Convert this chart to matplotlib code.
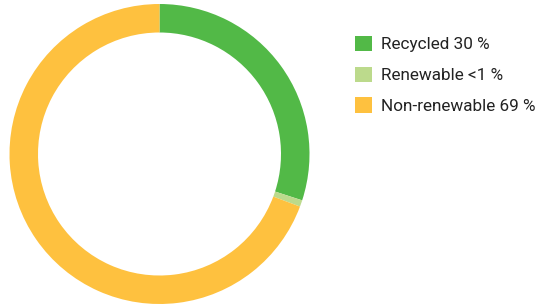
import matplotlib
matplotlib.use("Agg")
import matplotlib.pyplot as plt

labels = ["Recycled 30 %", "Renewable <1 %", "Non-renewable 69 %"]
values = [30, 0.7, 69.3]
colors = ["#52b947", "#bcda8c", "#fec13f"]

plt.rcParams['font.family'] = ['Roboto', 'DejaVu Sans']

fig = plt.figure(figsize=(5.4, 3.05), dpi=100)
W, H = 540, 305
cx, cy, r = 159.5, 154, 150
ax = fig.add_axes([(cx - r) / W, (H - cy - r) / H, 2 * r / W, 2 * r / H])
wedges, _ = ax.pie(values, colors=colors, startangle=90, counterclock=False,
                   radius=1.0, wedgeprops=dict(width=0.19, edgecolor='none'))
ax.set_aspect('equal')
ax.set_xlim(-1, 1)
ax.set_ylim(-1, 1)
ax.axis('off')

leg = fig.legend(wedges, labels, loc='upper left',
                 bbox_to_anchor=(355 / W, 1 - 36 / H), frameon=False,
                 fontsize=12.3, handlelength=1.0, handleheight=1.0,
                 handletextpad=0.55, labelspacing=0.83, borderpad=0,
                 borderaxespad=0)
for t in leg.get_texts():
    t.set_color('#222222')

fig.savefig("out.png", dpi=100)
